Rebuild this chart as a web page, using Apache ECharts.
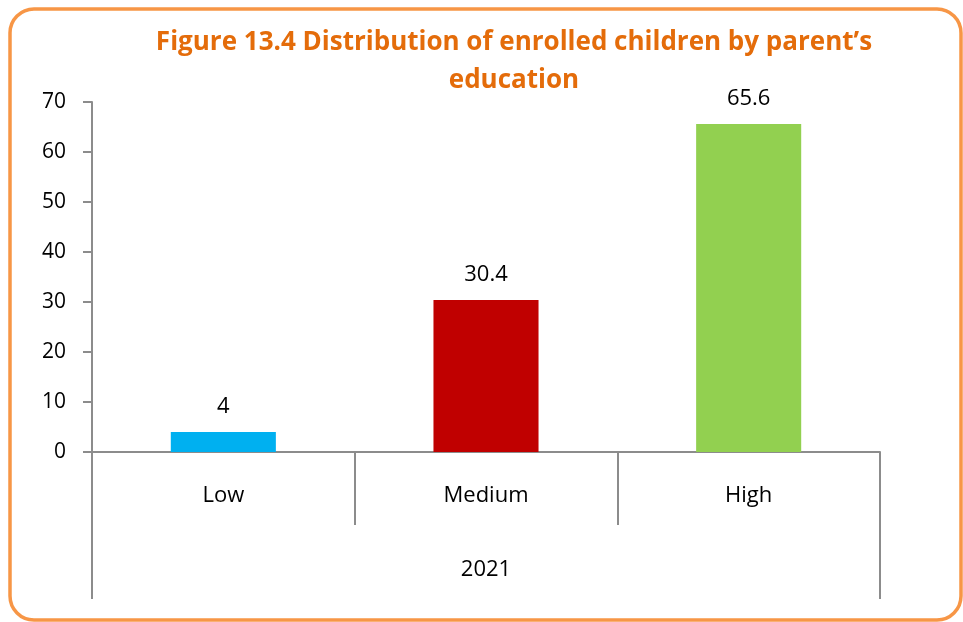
<!DOCTYPE html>
<html>
<head>
<meta charset="utf-8">
<script src="https://cdn.jsdelivr.net/npm/echarts@6/dist/echarts.min.js"></script>
<style>
  html, body { margin: 0; padding: 0; background: #fff; }
  #chart { width: 963px; height: 622px; }
</style>
</head>
<body>
<div id="chart"></div>
<script>
// Share of enrolled children by parent's education level, 2021
const categories = ['Low', 'Medium', 'High'];
const values = [4, 30.4, 65.6];
const barColors = ['#00B0F0', '#C00000', '#92D050'];
const groupLabels = ['2021'];
const titleText = 'Figure 13.4 Distribution of enrolled children by parent\u2019s\neducation';

const font = '"Open Sans", "Liberation Sans", sans-serif';
const axisGray = '#8c8c8c';

const chart = echarts.init(document.getElementById('chart'));

chart.setOption({
  animation: false,
  backgroundColor: '#ffffff',
  graphic: [{
    type: 'rect',
    shape: { x: 10, y: 9, width: 951, height: 611, r: 24 },
    style: { fill: 'none', stroke: '#F79646', lineWidth: 3.5 },
    z: -1
  }],
  title: {
    text: titleText,
    left: 509,
    top: 19,
    textAlign: 'center',
    textStyle: {
      color: '#E46C0A',
      fontFamily: '"Open Sans", sans-serif',
      fontWeight: 'bold',
      fontSize: 26,
      lineHeight: 38
    }
  },
  grid: { left: 92, right: 83, top: 102, bottom: 170, containLabel: false },
  xAxis: [{
    type: 'category',
    data: categories,
    position: 'bottom',
    axisLine: { show: true, lineStyle: { color: axisGray, width: 2 } },
    axisTick: { show: true, alignWithLabel: false, interval: 0, length: 73, lineStyle: { color: axisGray, width: 2 } },
    axisLabel: { color: '#000', fontSize: 22, fontFamily: font, margin: 33 },
    splitLine: { show: false }
  }, {
    type: 'category',
    data: groupLabels,
    position: 'bottom',
    axisLine: { show: false },
    axisTick: { show: true, alignWithLabel: false, interval: 0, length: 147, lineStyle: { color: axisGray, width: 2 } },
    axisLabel: { color: '#000', fontSize: 22, fontFamily: font, margin: 107 },
    splitLine: { show: false }
  }],
  yAxis: {
    type: 'value',
    min: 0,
    max: 70,
    interval: 10,
    axisLine: { show: true, lineStyle: { color: axisGray, width: 2 } },
    axisTick: { show: true, inside: false, length: 9, lineStyle: { color: axisGray, width: 2 } },
    axisLabel: { color: '#000', fontSize: 21, fontFamily: font, margin: 26 },
    splitLine: { show: false }
  },
  series: [{
    type: 'bar',
    xAxisIndex: 0,
    barWidth: '40%',
    data: values.map((v, i) => ({ value: v, itemStyle: { color: barColors[i] } })),
    label: {
      show: true,
      position: 'top',
      distance: 14,
      color: '#000',
      fontSize: 22,
      fontFamily: font
    }
  }]
});
</script>
</body>
</html>
